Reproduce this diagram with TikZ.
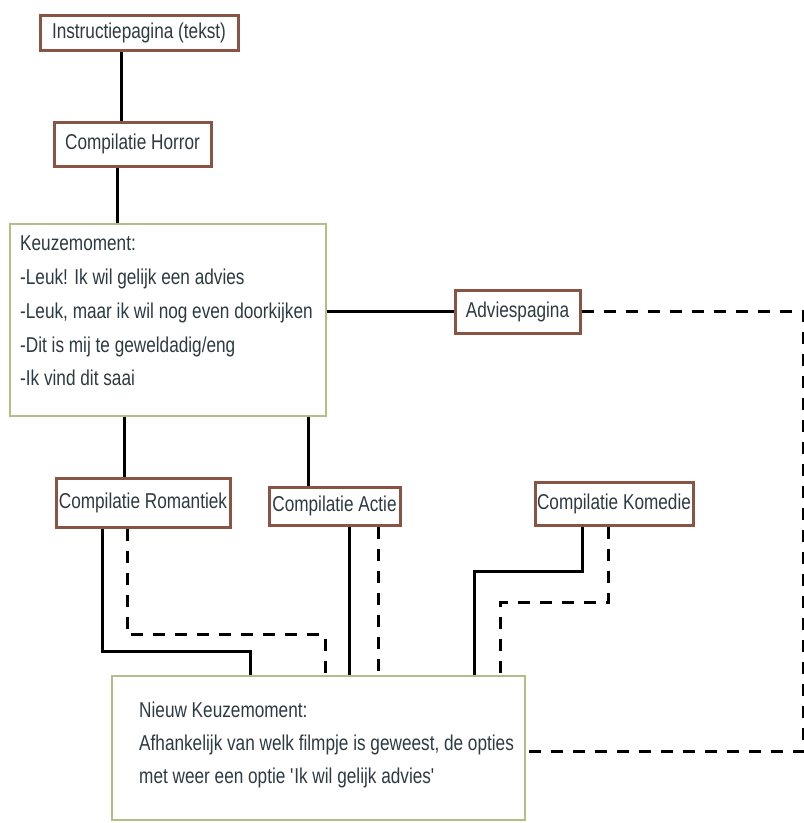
\documentclass[tikz,border=0pt]{standalone}
\usepackage{fontspec}
\setmainfont[FakeStretch=0.8]{Liberation Sans}
\definecolor{boxbrown}{HTML}{8A5444}
\definecolor{boxgreen}{HTML}{B3BD86}
\definecolor{txt}{HTML}{2E3A42}
\begin{document}
\begin{tikzpicture}[x=1pt,y=-1pt,
  brownbox/.style={draw=boxbrown, line width=3pt, fill=white, inner sep=0pt, text=txt},
  greenbox/.style={draw=boxgreen, line width=2.5pt, fill=white, inner sep=0pt},
  boxtext/.style={anchor=north west, align=left, inner sep=0pt, text=txt},
  conn/.style={line width=3pt, black},
  dconn/.style={line width=3pt, black, dash pattern=on 12pt off 10pt},
  font=\fontsize{21.5}{34}\selectfont]
\useasboundingbox (0,0) rectangle (804,823);
\fill[white] (0,0) rectangle (804,823);

\node[brownbox, minimum width=198, minimum height=35] (instr) at (139,33) {Instructiepagina (tekst)};
\node[brownbox, minimum width=157, minimum height=44] (horror) at (132.5,144) {Compilatie Horror};
\node[greenbox, minimum width=316, minimum height=192] (keuze) at (168,320) {};
\node[boxtext] (keuzetxt) at (20,235) {Keuzemoment:\\-Leuk! Ik wil gelijk een advies\\-Leuk, maar ik wil nog even doorkijken\\-Dit is mij te geweldadig/eng\\-Ik vind dit saai};
\node[brownbox, minimum width=125, minimum height=43] (advies) at (517.5,311.5) {Adviespagina};
\node[brownbox, minimum width=174, minimum height=49] (roman) at (143,502.5) {Compilatie Romantiek};
\node[brownbox, minimum width=131, minimum height=38] (actie) at (334.5,506) {Compilatie Actie};
\node[brownbox, minimum width=158, minimum height=43] (komedie) at (614,503.5) {Compilatie Komedie};
\node[greenbox, minimum width=413, minimum height=144] (nieuw) at (318.5,748) {};
\node[boxtext, font=\fontsize{21.5}{33}\selectfont] (nieuwtxt) at (139,702) {Nieuw Keuzemoment:\\Afhankelijk van welk filmpje is geweest, de opties\\met weer een optie \textquotesingle Ik wil gelijk advies\textquotesingle};

\coordinate (rc) at (803.5,311.5);

\draw[conn] ([xshift=-18pt]instr.south) -- ([xshift=-18pt]instr.south |- horror.north);
\draw[conn] ([xshift=-15.5pt]horror.south) -- ([xshift=-15.5pt]horror.south |- keuze.north);
\draw[conn] (advies.west -| keuze.east) -- (advies.west);
\draw[dconn] (advies.east) -- (rc) |- ([yshift=-3pt]nieuw.east);
\draw[conn] ([xshift=-19pt]roman.north |- keuze.south) -- ([xshift=-19pt]roman.north);
\draw[conn] ([xshift=-26.5pt]actie.north |- keuze.south) -- ([xshift=-26.5pt]actie.north);
\draw[conn] ([xshift=-41pt]roman.south) -- ++(0,123) -| ([xshift=-68.5pt]nieuw.north);
\draw[dconn] ([xshift=-16pt]roman.south) -- ++(0,106) -| ([xshift=6.5pt]nieuw.north);
\draw[conn] ([xshift=14.5pt]actie.south) -- ([xshift=14.5pt]actie.south |- nieuw.north);
\draw[dconn] ([xshift=43.5pt]actie.south) -- ([xshift=43.5pt]actie.south |- nieuw.north);
\draw[conn] ([xshift=-32pt]komedie.south) -- ++(0,45) -| ([xshift=155.5pt]nieuw.north);
\draw[dconn] ([xshift=-6pt]komedie.south) -- ++(0,76) -| ([xshift=181.5pt]nieuw.north);
\end{tikzpicture}
\end{document}
